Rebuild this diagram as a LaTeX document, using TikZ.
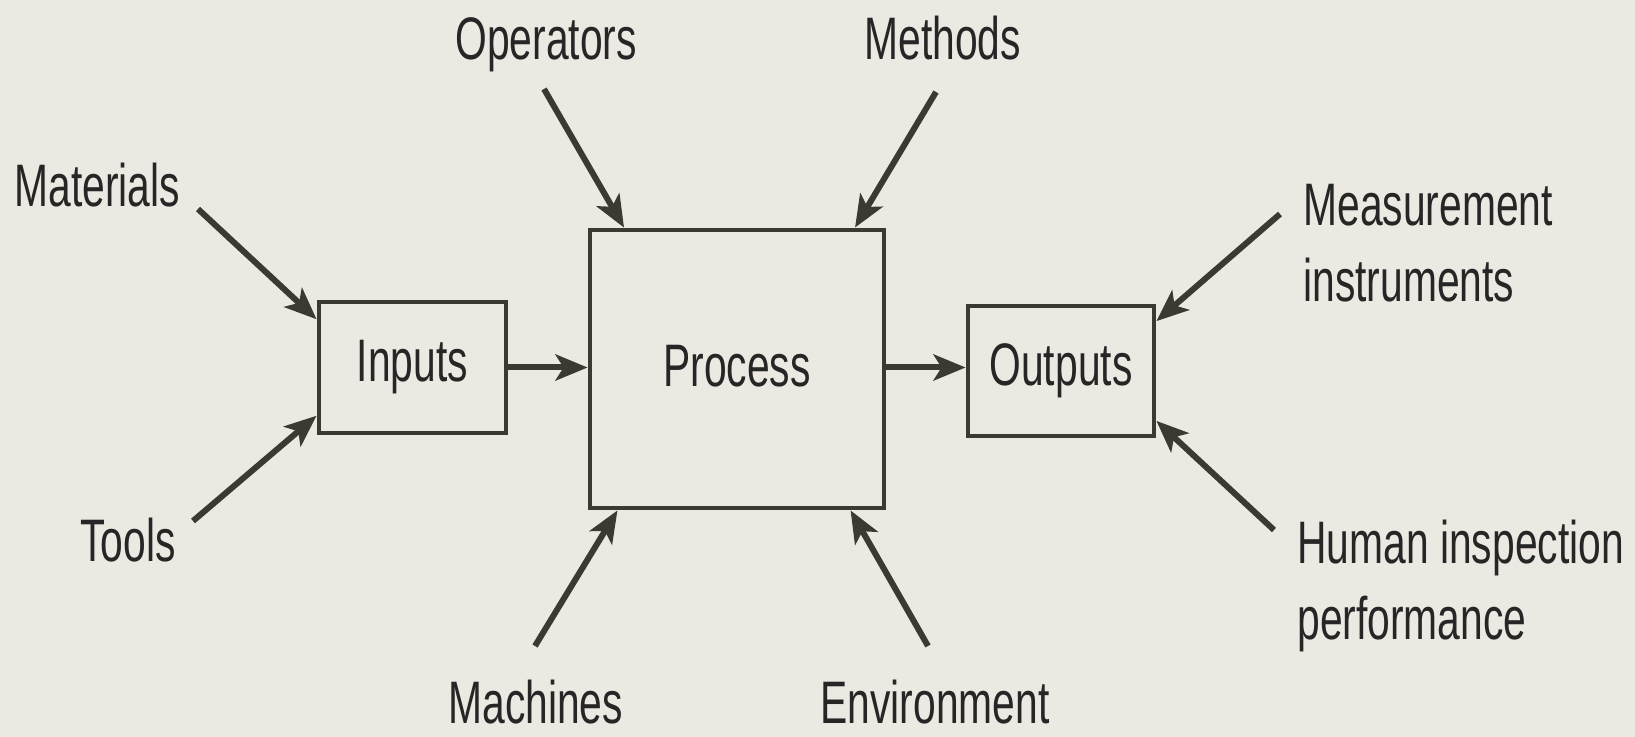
\documentclass[tikz,border=0pt]{standalone}
\usepackage{fontspec}
\setmainfont[FakeStretch=0.68]{Liberation Sans}
\usetikzlibrary{arrows.meta,calc}
\definecolor{paper}{HTML}{ECE9E3}
\definecolor{ink}{HTML}{3A3932}
\definecolor{txt}{HTML}{262626}
\begin{document}
\begin{tikzpicture}[x=0.5pt,y=-0.5pt,
  lbl/.style={inner sep=0pt, text=txt, font=\fontsize{30}{38}\selectfont},
  boxnode/.style={draw=ink, line width=2.4pt, inner sep=0pt, text=txt, font=\fontsize{30}{38}\selectfont},
  conn/.style={draw=ink, line width=3pt, -{Stealth[length=16pt,width=13pt,inset=4pt]}}
]
\fill[paper] (0,0) rectangle (1635,737);
\useasboundingbox (0,0) rectangle (1635,737);

% boxes
\node[boxnode, minimum width=93.5pt, minimum height=65.5pt] (inputs) at (412.5,367.5) {Inputs};
\node[boxnode, minimum width=147pt, minimum height=139pt] (proc) at (737,369) {};
\node[lbl] (proctext) at (737,366) {Process};
\node[boxnode, minimum width=93pt, minimum height=65pt] (outputs) at (1061,371) {Outputs};

% labels
\node[lbl, anchor=base west] (mat) at (14,207) {Materials};
\node[lbl, anchor=base west] (tools) at (80,562) {Tools};
\node[lbl, anchor=base west] (ops) at (455,60) {Operators};
\node[lbl, anchor=base west] (meth) at (864,60) {Methods};
\node[lbl, anchor=base west] (mach) at (448,724) {Machines};
\node[lbl, anchor=base west] (env) at (820,724) {Environment};
\node[lbl, anchor=north west, align=left] (meas) at (1303,184) {Measurement\\instruments};
\node[lbl, anchor=north west, align=left] (human) at (1297,520) {Human inspection\\performance};

% tails of connectors
\coordinate (matT) at (198,209);
\coordinate (toolsT) at (193,521);
\coordinate (opsT) at (544,89);
\coordinate (methT) at (936,92);
\coordinate (machT) at (535,646);
\coordinate (envT) at (928,646);
\coordinate (measT) at (1280,214);
\coordinate (humanT) at (1274,530);

% connectors
\draw[conn] (matT) -- ($(inputs.north west)!0.145!(inputs.south west)$);
\draw[conn] (toolsT) -- ($(inputs.north west)!0.855!(inputs.south west)$);
\draw[conn] (opsT) -- ($(proc.north west)!0.122!(proc.north east)$);
\draw[conn] (methT) -- ($(proc.north west)!0.895!(proc.north east)$);
\draw[conn] (machT) -- ($(proc.south west)!0.10!(proc.south east)$);
\draw[conn] (envT) -- ($(proc.south west)!0.88!(proc.south east)$);
\draw[conn] (measT) -- ($(outputs.north east)!0.13!(outputs.south east)$);
\draw[conn] (humanT) -- ($(outputs.north east)!0.87!(outputs.south east)$);
\draw[conn] (inputs.east) -- (inputs.east -| proc.west);
\draw[conn] (inputs.east -| proc.east) -- (inputs.east -| outputs.west);
\end{tikzpicture}
\end{document}
